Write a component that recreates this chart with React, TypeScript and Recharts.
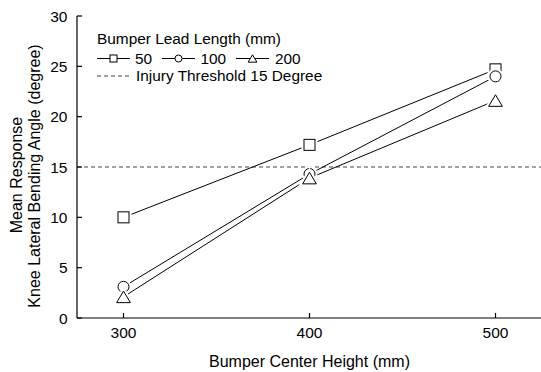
import { LineChart, Line, XAxis, YAxis, ReferenceLine } from 'recharts'

// bumper centre height (mm) and mean knee bending angle per lead length
const heights = [300, 400, 500]
const lead50 = [10.0, 17.2, 24.7]
const lead100 = [3.1, 14.3, 24.0]
const lead200 = [2.1, 13.9, 21.6]
const threshold = 15

const xTicks = [300, 400, 500]
const yTicks = [0, 5, 10, 15, 20, 25, 30]

const data = heights.map((h, i) => ({
  h,
  l50: lead50[i],
  l100: lead100[i],
  l200: lead200[i],
}))

const FONT = '"Liberation Sans", Arial, sans-serif'

type Kind = 'square' | 'circle' | 'triangle'

// hollow marker; the white halo leaves a small gap where lines meet it
function shape(kind: Kind, cx: number, cy: number, size: number, props: any) {
  if (kind === 'square') {
    const h = size / 2
    return <rect x={cx - h} y={cy - h} width={size} height={size} {...props} />
  }
  if (kind === 'circle') {
    return <circle cx={cx} cy={cy} r={size / 2} {...props} />
  }
  const w = size * 1.25
  const ht = size * 1.05
  const pts = `${cx - w / 2},${cy + ht / 2} ${cx + w / 2},${cy + ht / 2} ${cx},${cy - ht / 2}`
  return <polygon points={pts} {...props} />
}

function Marker({ kind, cx, cy, size, halo }: { kind: Kind; cx: number; cy: number; size: number; halo: number }) {
  return (
    <g>
      {shape(kind, cx, cy, size, { fill: '#fff', stroke: '#fff', strokeWidth: halo })}
      {shape(kind, cx, cy, size, { fill: '#fff', stroke: '#000', strokeWidth: 1 })}
    </g>
  )
}

const dotFor = (kind: Kind) => (p: any) => (
  <Marker key={`${kind}-${p.index}`} kind={kind} cx={p.cx} cy={p.cy} size={11} halo={5} />
)

const tickStyle = { fontSize: 15.5, fill: '#000', fontFamily: FONT }

function YTitle() {
  return (
    <g fontFamily={FONT} fontSize={16} fill="#000">
      <text x={16} y={175} transform="rotate(-90 16 175)" textAnchor="middle" dominantBaseline="central">
        Mean Response
      </text>
      <text x={34} y={176} transform="rotate(-90 34 176)" textAnchor="middle" dominantBaseline="central">
        Knee Lateral Bending Angle (degree)
      </text>
    </g>
  )
}

function LegendBox() {
  const row2 = 58.5
  const row3 = 76
  const entries: { kind: Kind; x0: number; label: string; tx: number }[] = [
    { kind: 'square', x0: 97, label: '50', tx: 135 },
    { kind: 'circle', x0: 162, label: '100', tx: 200.5 },
    { kind: 'triangle', x0: 236, label: '200', tx: 275 },
  ]
  return (
    <svg width={541} height={372} style={{ position: 'absolute', left: 0, top: 0, pointerEvents: 'none' }}>
      <g fontFamily={FONT} fontSize={15.4} fill="#000">
        <text x={97} y={44.3}>Bumper Lead Length (mm)</text>
        {entries.map((e) => (
          <g key={e.label}>
            <line x1={e.x0} x2={e.x0 + 33} y1={row2} y2={row2} stroke="#000" strokeWidth={1} />
            <Marker kind={e.kind} cx={e.x0 + 16.5} cy={row2} size={7} halo={0} />
            <text x={e.tx} y={row2 + 5}>{e.label}</text>
          </g>
        ))}
        <line x1={97} x2={129} y1={row3} y2={row3} stroke="#444" strokeWidth={1} strokeDasharray="4 3" />
        <text x={136} y={row3 + 5}>Injury Threshold 15 Degree</text>
      </g>
    </svg>
  )
}

export default function App() {
  return (
    <div style={{ position: 'absolute', left: 0, top: 0, width: 541, height: 372, overflow: 'hidden', background: '#fff' }}>
      <LineChart width={560} height={372} data={data} margin={{ top: 16, right: 18, bottom: 0, left: 0 }}>
        <XAxis
          xAxisId="b"
          type="number"
          dataKey="h"
          domain={[275, 525]}
          ticks={xTicks}
          height={54}
          tickSize={-5}
          tickMargin={14}
          stroke="#000"
          strokeWidth={1.2}
          tick={tickStyle}
          label={{
            value: 'Bumper Center Height (mm)',
            position: 'insideBottom',
            offset: 5,
            style: { fontSize: 16, fill: '#000', fontFamily: FONT },
          }}
        />
        <XAxis
          xAxisId="t"
          orientation="top"
          type="number"
          dataKey="h"
          domain={[275, 525]}
          ticks={xTicks}
          height={0}
          tickSize={-5}
          tick={false}
          stroke="#000"
          strokeWidth={1.2}
        />
        <YAxis
          yAxisId="l"
          type="number"
          domain={[0, 30]}
          ticks={yTicks}
          width={77}
          tickSize={-5}
          tickMargin={14.5}
          stroke="#000"
          strokeWidth={1.2}
          tick={tickStyle}
          label={{ content: () => <YTitle /> }}
        />
        <YAxis
          yAxisId="r"
          orientation="right"
          type="number"
          domain={[0, 30]}
          ticks={yTicks}
          width={0}
          tickSize={-5}
          tick={false}
          stroke="#000"
          strokeWidth={1.2}
        />
        <ReferenceLine
          xAxisId="b"
          yAxisId="l"
          y={threshold}
          stroke="#444"
          strokeWidth={1}
          strokeDasharray="4 3"
        />
        <Line xAxisId="b" yAxisId="l" dataKey="l50" stroke="#000" strokeWidth={1} dot={dotFor('square')} isAnimationActive={false} />
        <Line xAxisId="b" yAxisId="l" dataKey="l100" stroke="#000" strokeWidth={1} dot={dotFor('circle')} isAnimationActive={false} />
        <Line xAxisId="b" yAxisId="l" dataKey="l200" stroke="#000" strokeWidth={1} dot={dotFor('triangle')} isAnimationActive={false} />
      </LineChart>
      <LegendBox />
    </div>
  )
}
